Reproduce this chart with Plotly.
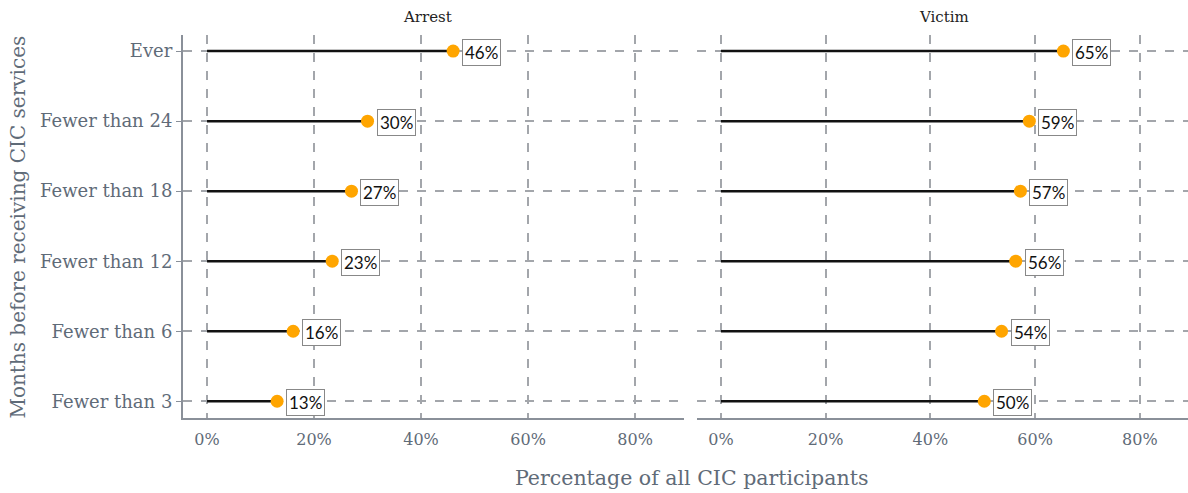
import plotly.graph_objects as go
from plotly.subplots import make_subplots

months = ["Ever", "Fewer than 24", "Fewer than 18", "Fewer than 12", "Fewer than 6", "Fewer than 3"]
arrest = [46.0, 30.0, 27.0, 23.4, 16.1, 13.1]
victim = [65.4, 58.9, 57.2, 56.3, 53.6, 50.3]
panels = ["Arrest", "Victim"]
x_ticks = [0, 20, 40, 60, 80]
x_labels = ["0%", "20%", "40%", "60%", "80%"]

serif = "DejaVu Serif"
grey = "#5f6b78"
grid = "#a3a6ab"

fig = make_subplots(rows=1, cols=2, shared_yaxes=True, horizontal_spacing=0.011)

for col, vals in enumerate([arrest, victim], start=1):
    for m, v in zip(months, vals):
        fig.add_trace(go.Scatter(x=[0, v], y=[m, m], mode="lines",
                                 line=dict(color="#111111", width=2.5),
                                 showlegend=False, hoverinfo="skip"), row=1, col=col)
    fig.add_trace(go.Scatter(x=vals, y=months, mode="markers",
                             marker=dict(color="#FFA500", size=13),
                             showlegend=False), row=1, col=col)
    xref = "x" if col == 1 else "x2"
    yref = "y" if col == 1 else "y2"
    for m, v in zip(months, vals):
        fig.add_annotation(x=v, y=m, xref=xref, yref=yref, text=f"{round(v)}%",
                           showarrow=False, xanchor="left", xshift=9, yshift=-1,
                           font=dict(family="Lato", size=17, color="#111111"),
                           bgcolor="white", bordercolor="#888888", borderwidth=1,
                           borderpad=2)

fig.update_xaxes(range=[-4.5, 89.2], tickvals=x_ticks, ticktext=x_labels,
                 showgrid=True, gridcolor=grid, griddash="dash", gridwidth=1.5,
                 zeroline=False, showline=True, linecolor="#8a9099", linewidth=2,
                 ticks="outside", ticklen=6, tickcolor="rgba(0,0,0,0)",
                 tickfont=dict(family=serif, size=16, color=grey))
fig.update_xaxes(domain=[0.154, 0.576], row=1, col=1)
fig.update_xaxes(domain=[0.587, 1.0], row=1, col=2)

fig.update_yaxes(categoryorder="array", categoryarray=months[::-1],
                 range=[-0.24, 5.23], showgrid=True, gridcolor=grid, griddash="dash",
                 gridwidth=1.5, zeroline=False, domain=[0.152, 0.929],
                 tickfont=dict(family=serif, size=18, color=grey))
fig.update_yaxes(showline=True, linecolor="#8a9099", linewidth=2, ticks="outside",
                 ticklen=5, tickcolor="#8a9099", row=1, col=1)
fig.update_yaxes(showline=False, showticklabels=False, row=1, col=2)

for name, xc in zip(panels, [0.36, 0.795]):
    fig.add_annotation(x=xc, y=0.966, xref="paper", yref="paper", text=name,
                       showarrow=False, xanchor="center", yanchor="middle",
                       font=dict(family=serif, size=15, color="#222222"))

fig.add_annotation(x=0.582, y=0.03, xref="paper", yref="paper",
                   text="Percentage of all CIC participants", showarrow=False,
                   xanchor="center", yanchor="middle",
                   font=dict(family=serif, size=20.5, color=grey))
fig.add_annotation(x=0.015, y=0.54, xref="paper", yref="paper",
                   text="Months before receiving CIC services", showarrow=False,
                   textangle=-90, xanchor="center", yanchor="middle",
                   font=dict(family=serif, size=20, color=grey))

fig.update_layout(width=1188, height=493, margin=dict(l=0, r=0, t=0, b=0),
                  plot_bgcolor="white", paper_bgcolor="white")

fig.write_html("out.html", config={"displayModeBar": False},
               post_script="document.body.style.margin='0';")
